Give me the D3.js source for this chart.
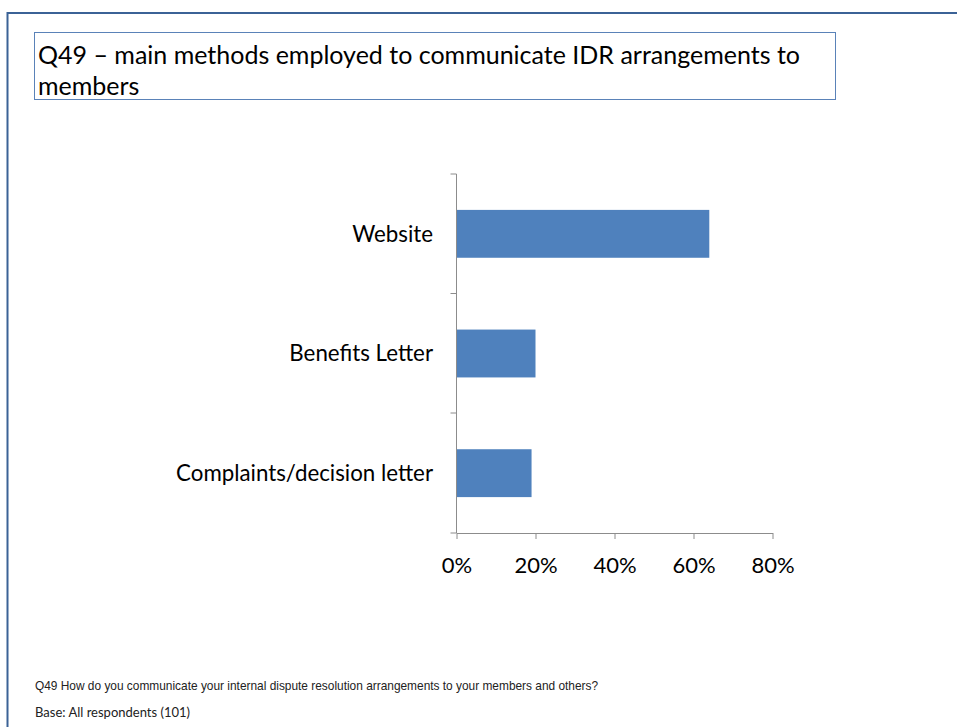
<!DOCTYPE html>
<html>
<head>
<meta charset="utf-8">
<script src="https://cdn.jsdelivr.net/npm/d3@7"></script>
<style>
  body { margin: 0; background: #fff; }
</style>
</head>
<body>
<script>
'use strict';

// chart data
const categories = ["Website", "Benefits Letter", "Complaints/decision letter"];
const values = [0.64, 0.20, 0.19];
const xTicks = [0, 0.2, 0.4, 0.6, 0.8];

const titleLines = ["Q49 \u2013 main methods employed to communicate IDR arrangements to", "members"];
const questionNote = "Q49 How do you communicate your internal dispute resolution arrangements to your members and others?";
const baseNote = "Base: All respondents (101)";

const svg = d3.select('body')
  .append('svg')
  .attr('width', 957)
  .attr('height', 727);

// slide frame (top and left edges only)
svg.append('path')
  .attr('d', 'M7.5,740 L7.5,13 L957,13')
  .attr('fill', 'none')
  .attr('stroke', '#3b6296')
  .attr('stroke-width', 2);

// title box
svg.append('rect')
  .attr('x', 34.5)
  .attr('y', 32.5)
  .attr('width', 801)
  .attr('height', 67)
  .attr('fill', 'white')
  .attr('stroke', '#5a82b8')
  .attr('stroke-width', 1);

svg.append('g')
  .selectAll('text')
  .data(titleLines)
  .enter()
  .append('text')
  .attr('x', 38)
  .attr('y', (d, i) => 64 + i * 31)
  .style('font', '25px Lato, sans-serif')
  .attr('fill', '#000')
  .text(d => d);

// scales
const xScale = d3.scaleLinear()
  .domain([0, 0.8])
  .range([456.5, 772.5]);

const yScale = d3.scaleBand()
  .domain(categories)
  .range([174, 533])
  .paddingInner(0.6)
  .paddingOuter(0.3);

// bars
svg.selectAll('.bar')
  .data(categories)
  .enter()
  .append('rect')
  .attr('class', 'bar')
  .attr('x', xScale(0))
  .attr('y', d => yScale(d))
  .attr('width', (d, i) => xScale(values[i]) - xScale(0))
  .attr('height', yScale.bandwidth())
  .attr('fill', '#4f81bd');

// x axis
const xAxis = d3.axisBottom(xScale)
  .tickValues(xTicks)
  .tickFormat(d3.format('.0%'))
  .tickSizeInner(6)
  .tickSizeOuter(0)
  .tickPadding(18);

const gx = svg.append('g')
  .attr('transform', 'translate(0,533)')
  .call(xAxis);
gx.select('.domain').attr('stroke', '#8c8c8c');
gx.selectAll('.tick line').attr('stroke', '#8c8c8c').attr('y1', 0).attr('y2', 6);
gx.selectAll('.tick text')
  .style('font', '22px Lato, sans-serif')
  .attr('fill', '#000');

// y axis: category boundaries as ticks
const bounds = [174, 293.5, 413, 533];
svg.append('line')
  .attr('x1', xScale(0)).attr('x2', xScale(0))
  .attr('y1', 174).attr('y2', 533)
  .attr('stroke', '#8c8c8c');
svg.selectAll('.ytick')
  .data(bounds)
  .enter()
  .append('line')
  .attr('x1', xScale(0) - 6).attr('x2', xScale(0))
  .attr('y1', d => d).attr('y2', d => d)
  .attr('stroke', '#8c8c8c');

// category labels
svg.selectAll('.cat')
  .data(categories)
  .enter()
  .append('text')
  .attr('x', 433)
  .attr('y', d => yScale(d) + yScale.bandwidth() / 2)
  .attr('dy', '0.35em')
  .attr('text-anchor', 'end')
  .style('font', '22.3px Lato, sans-serif')
  .attr('fill', '#000')
  .text(d => d);

// notes
svg.append('text')
  .attr('x', 35)
  .attr('y', 690)
  .style('font', '11.9px "Liberation Sans", Arial, sans-serif')
  .attr('fill', '#222')
  .text(questionNote);

svg.append('text')
  .attr('x', 35)
  .attr('y', 717)
  .style('font', '13px Lato, sans-serif')
  .attr('fill', '#222')
  .text(baseNote);
</script>
</body>
</html>
